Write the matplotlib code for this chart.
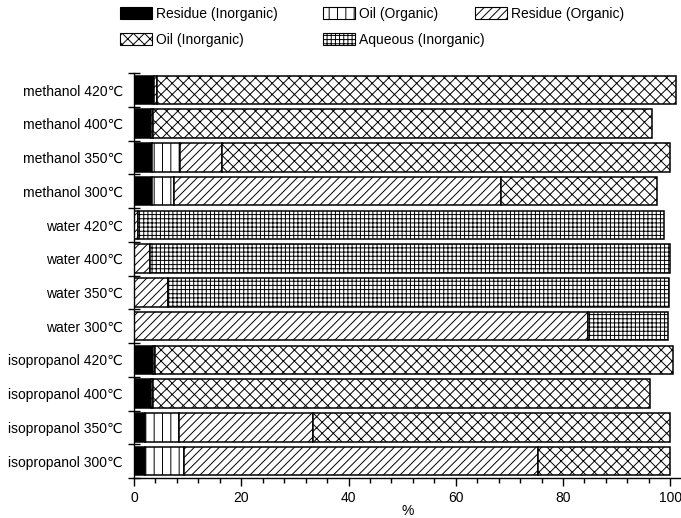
import numpy as np
import matplotlib
matplotlib.use('Agg')
import matplotlib.pyplot as plt
from matplotlib.patches import Patch
from matplotlib.ticker import MultipleLocator

plt.rcParams['font.family'] = ['Liberation Sans', 'DejaVu Sans']
plt.rcParams['hatch.linewidth'] = 0.7

# Data (top row first), widths in %
labels = ['methanol 420℃', 'methanol 400℃', 'methanol 350℃', 'methanol 300℃',
          'water 420℃', 'water 400℃', 'water 350℃', 'water 300℃',
          'isopropanol 420℃', 'isopropanol 400℃', 'isopropanol 350℃', 'isopropanol 300℃']
residue_inorg = [3.7, 3.1, 3.3, 3.3, 0, 0, 0, 0, 3.5, 3.1, 2.05, 2.05]
oil_org = [0, 0, 5.3, 4.2, 0, 0, 0, 0, 0, 0, 6.25, 7.25]
residue_org = [0.5, 0.5, 7.8, 60.9, 0.8, 3.0, 6.3, 84.6, 0.5, 0.5, 25.0, 66.1]
oil_inorg = [96.8, 93.0, 83.5, 29.2, 0, 0, 0, 0, 96.5, 92.7, 66.7, 24.6]
aqueous_inorg = [0, 0, 0, 0, 98.0, 97.0, 93.4, 15.0, 0, 0, 0, 0]

series = [
    ('Residue (Inorganic)', residue_inorg, 'black', ''),
    ('Oil (Organic)', oil_org, 'white', '||'),
    ('Residue (Organic)', residue_org, 'white', '////'),
    ('Oil (Inorganic)', oil_inorg, 'white', 'xxx'),
    ('Aqueous (Inorganic)', aqueous_inorg, 'white', '++++'),
]

fig = plt.figure(figsize=(6.81, 5.18), dpi=100)
ax = fig.add_axes([134 / 681, 1 - 478 / 518, 1 - 134 / 681, (478 - 73) / 518])

n = len(labels)
y = np.arange(n)[::-1] + 0.5
left = np.zeros(n)
handles = {}
for name, vals, fc, hatch in series:
    vals = np.array(vals, dtype=float)
    m = vals > 0
    ax.barh(y[m], vals[m], left=left[m], height=0.85, color=fc,
            edgecolor='black', linewidth=1.1, hatch=hatch)
    left += vals
    handles[name] = Patch(facecolor=fc, edgecolor='black', hatch=hatch, linewidth=0.8)

ax.set_xlim(0, 102)
ax.set_ylim(0, n)
ax.set_yticks(y)
ax.set_yticklabels(labels, fontsize=10)
ax.yaxis.set_minor_locator(MultipleLocator(1))
ax.tick_params(axis='y', which='major', length=0, pad=8)
ax.tick_params(axis='y', which='minor', direction='inout', length=8, width=1)
ax.set_xticks([0, 20, 40, 60, 80, 100])
ax.xaxis.set_minor_locator(MultipleLocator(4))
ax.tick_params(axis='x', which='major', direction='out', length=6, width=1, labelsize=10)
ax.tick_params(axis='x', which='minor', direction='out', length=3.5, width=1)
ax.set_xlabel('%', fontsize=10, labelpad=-1)
for s in ['top', 'right']:
    ax.spines[s].set_visible(False)
for s in ['left', 'bottom']:
    ax.spines[s].set_linewidth(1.0)

# legend, laid out in three hand-placed columns
cols = [(['Residue (Inorganic)', 'Oil (Inorganic)'], 117),
        (['Oil (Organic)', 'Aqueous (Inorganic)'], 320),
        (['Residue (Organic)'], 472)]
for names, xpx in cols:
    fig.legend([handles[k] for k in names], names, loc='upper left',
               bbox_to_anchor=(xpx / 681, 1 - 4 / 518), frameon=False,
               fontsize=10, handlelength=2.3, handleheight=0.9,
               handletextpad=0.3, labelspacing=0.85, borderaxespad=0,
               borderpad=0.2)

fig.savefig('out.png', dpi=100)
